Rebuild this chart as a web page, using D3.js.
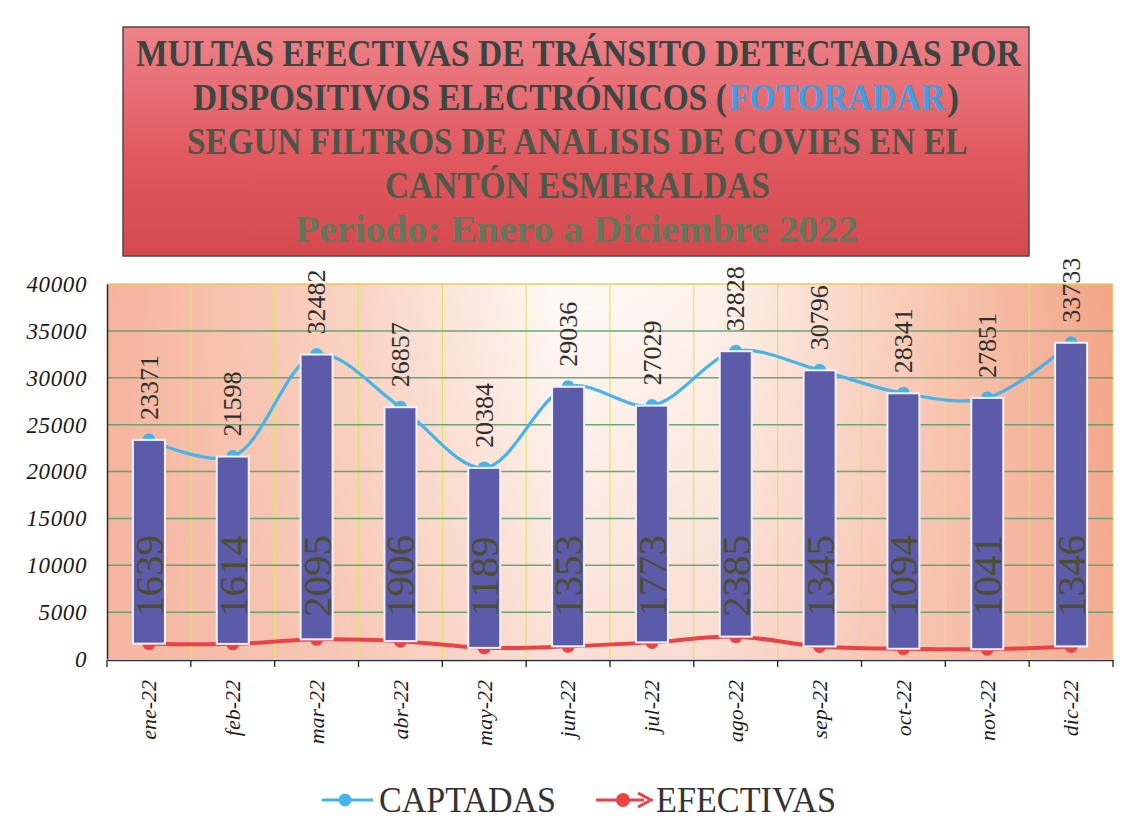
<!DOCTYPE html>
<html>
<head>
<meta charset="utf-8">
<script src="https://cdn.jsdelivr.net/npm/d3@7"></script>
<style>
  html, body { margin: 0; padding: 0; background: #ffffff; }
  svg { display: block; }
</style>
</head>
<body>
<svg id="chart" width="1127" height="837"></svg>
<script>
const months = ["ene-22","feb-22","mar-22","abr-22","may-22","jun-22","jul-22","ago-22","sep-22","oct-22","nov-22","dic-22"];
const captadas = [23371,21598,32482,26857,20384,29036,27029,32828,30796,28341,27851,33733];
const efectivas = [1639,1614,2095,1906,1189,1353,1773,2385,1345,1094,1041,1346];
const yTicks = [0,5000,10000,15000,20000,25000,30000,35000,40000];
const titleParts = [
  {t:"MULTAS EFECTIVAS DE TRÁNSITO DETECTADAS POR", line:0, x0:136, x1:1021},
  {t:"DISPOSITIVOS ELECTRÓNICOS (", line:1, x0:193, x1:727},
  {t:"FOTORADAR", line:1, x0:729, x1:945, hl:true},
  {t:")", line:1, x0:947, x1:959},
  {t:"SEGUN FILTROS DE ANALISIS DE COVIES EN EL", line:2, x0:187, x1:968},
  {t:"CANTÓN ESMERALDAS", line:3, x0:385, x1:770},
  {t:"Periodo: Enero a Diciembre 2022", line:4, x0:295, x1:858}
];
const seriesNames = ["CAPTADAS","EFECTIVAS"];

const svg = d3.select("#chart");
const plot = {left:107, right:1113, top:284, bottom:659};

const defs = svg.append("defs");
const tg = defs.append("linearGradient").attr("id","titleGrad").attr("x1",0).attr("y1",0).attr("x2",0).attr("y2",1);
tg.append("stop").attr("offset","0%").attr("stop-color","#ee8389");
tg.append("stop").attr("offset","55%").attr("stop-color","#e05a60");
tg.append("stop").attr("offset","100%").attr("stop-color","#d4494e");

const bg = defs.append("linearGradient").attr("id","bgGrad").attr("x1",0).attr("y1",0).attr("x2",1).attr("y2",0);
bg.append("stop").attr("offset","0%").attr("stop-color","#f5b39c");
bg.append("stop").attr("offset","25%").attr("stop-color","#f9d4c4");
bg.append("stop").attr("offset","45%").attr("stop-color","#fffaf6");
bg.append("stop").attr("offset","60%").attr("stop-color","#fdf3ec");
bg.append("stop").attr("offset","80%").attr("stop-color","#f8cbb6");
bg.append("stop").attr("offset","100%").attr("stop-color","#f2a487");
const bg2 = defs.append("linearGradient").attr("id","bgGrad2").attr("x1",0).attr("y1",0).attr("x2",0).attr("y2",1);
bg2.append("stop").attr("offset","0%").attr("stop-color","#f7c0ac").attr("stop-opacity",0);
bg2.append("stop").attr("offset","100%").attr("stop-color","#f5b8a4").attr("stop-opacity",0.4);

// Title box
svg.append("rect").attr("x",123).attr("y",27).attr("width",906).attr("height",229)
  .attr("fill","url(#titleGrad)").attr("stroke","#4a4a4a").attr("stroke-width",1.5);
const titleColors = ["#3a4440","#3c4642","#4a5648","#4d5a4a","#62785a"];
svg.append("g").selectAll("text").data(titleParts).join("text")
  .attr("x",0).attr("y",0)
  .attr("font-family","'Liberation Serif', 'DejaVu Serif', serif")
  .attr("font-weight","bold").attr("font-size",38)
  .attr("fill",d=>d.hl ? "#3e9fe2" : titleColors[d.line])
  .text(d=>d.t)
  .each(function(d){
    const len = this.getComputedTextLength();
    const sx = (d.x1 - d.x0) / len;
    d3.select(this).attr("transform",`translate(${d.x0},${66 + d.line*44}) scale(${sx},1)`);
  });

// Scales
const x = d3.scaleBand().domain(months).range([plot.left, plot.right]);
const y = d3.scaleLinear().domain([0,40000]).range([plot.bottom, plot.top]);
const xc = d => x(d) + x.bandwidth()/2;

// Plot background
svg.append("rect").attr("x",plot.left).attr("y",plot.top).attr("width",plot.right-plot.left).attr("height",plot.bottom-plot.top).attr("fill","url(#bgGrad)");
svg.append("rect").attr("x",plot.left).attr("y",plot.top).attr("width",plot.right-plot.left).attr("height",plot.bottom-plot.top).attr("fill","url(#bgGrad2)");

// Vertical gridlines at category boundaries
const bounds = months.map(m => x(m)).concat([plot.right]);
svg.append("g").selectAll("line").data(bounds.slice(1)).join("line")
  .attr("x1",d=>d).attr("x2",d=>d).attr("y1",plot.top).attr("y2",plot.bottom)
  .attr("stroke","#dde46e").attr("stroke-width",1.2);
// Horizontal gridlines
svg.append("g").selectAll("line").data(yTicks.filter(v=>v>0)).join("line")
  .attr("x1",plot.left).attr("x2",plot.right).attr("y1",d=>y(d)).attr("y2",d=>y(d))
  .attr("stroke", d => d===40000 ? "#e2c94e" : "#5d9f6e").attr("stroke-width",1.5).attr("opacity",0.9);

// Y axis
const yAxis = svg.append("g").attr("transform",`translate(${plot.left},0)`)
  .call(d3.axisLeft(y).tickValues(yTicks).tickSize(0).tickPadding(20).tickFormat(d3.format("d")));
yAxis.select(".domain").attr("stroke","#2a2a2a").attr("stroke-width",1.5);
yAxis.selectAll("text").attr("font-family","'Liberation Serif', serif").attr("font-style","italic")
  .attr("font-size",23).attr("letter-spacing","0.6px").attr("fill","#1a1a1a");

// X axis
const xAxis = svg.append("g").attr("transform",`translate(0,${plot.bottom+1})`)
  .call(d3.axisBottom(x).tickSize(0).tickSizeOuter(0));
xAxis.select(".domain").attr("stroke","#22304a").attr("stroke-width",1.6);
xAxis.selectAll("text").attr("font-family","'Liberation Serif', serif").attr("font-style","italic")
  .attr("font-size",22).attr("fill","#1a1a1a")
  .attr("transform","rotate(-90)").attr("x",-20).attr("y",0).attr("dy","0.33em")
  .style("text-anchor","end");
svg.append("g").selectAll("line").data(bounds).join("line")
  .attr("x1",d=>d).attr("x2",d=>d).attr("y1",plot.bottom+1).attr("y2",plot.bottom+8)
  .attr("stroke","#222").attr("stroke-width",1.3);

// Lines
const lineGen = d3.line().x((d,i)=>xc(months[i])).y(d=>y(d)).curve(d3.curveCatmullRom.alpha(0.5));
svg.append("path").datum(captadas).attr("d",lineGen).attr("fill","none").attr("stroke","#46b4ea").attr("stroke-width",3.2);
svg.append("path").datum(efectivas).attr("d",lineGen).attr("fill","none").attr("stroke","#ea4346").attr("stroke-width",4);
svg.append("g").selectAll("circle").data(captadas).join("circle")
  .attr("cx",(d,i)=>xc(months[i])).attr("cy",d=>y(d)).attr("r",6.5).attr("fill","#46b4ea");
svg.append("g").selectAll("circle").data(efectivas).join("circle")
  .attr("cx",(d,i)=>xc(months[i])).attr("cy",d=>y(d)).attr("r",6.5).attr("fill","#ea4346");

// Up bars (between efectivas and captadas)
const bw = 32;
svg.append("g").selectAll("rect").data(months).join("rect")
  .attr("x",d=>xc(d)-bw/2).attr("width",bw)
  .attr("y",(d,i)=>y(captadas[i])).attr("height",(d,i)=>y(efectivas[i])-y(captadas[i]))
  .attr("fill","#5b5ba9").attr("stroke","#f4f2fb").attr("stroke-width",2);

// Labels captadas
svg.append("g").selectAll("text").data(captadas).join("text")
  .attr("transform",(d,i)=>`translate(${xc(months[i])},${y(d)-20}) rotate(-90)`)
  .attr("dy","0.33em").attr("text-anchor","start")
  .attr("font-family","'Liberation Serif', serif").attr("font-size",26).attr("fill","#2e2e2e")
  .text(d=>d);
// Labels efectivas
svg.append("g").selectAll("text").data(efectivas).join("text")
  .attr("transform",(d,i)=>`translate(${xc(months[i])},${y(0)-42}) rotate(-90)`)
  .attr("dy","0.34em").attr("text-anchor","start")
  .attr("font-family","'Liberation Serif', serif").attr("font-size",41).attr("fill","#4d4d33")
  .text(d=>d);

// Legend
const lg = svg.append("g");
lg.append("line").attr("x1",322).attr("x2",373).attr("y1",800).attr("y2",800).attr("stroke","#46b4ea").attr("stroke-width",3);
lg.append("circle").attr("cx",345).attr("cy",800).attr("r",6.5).attr("fill","#46b4ea");
lg.append("text").attr("x",379).attr("y",812).attr("font-family","'Liberation Serif', serif").attr("font-size",36)
  .attr("textLength",177).attr("lengthAdjust","spacingAndGlyphs").attr("fill","#333").text(seriesNames[0]);
lg.append("line").attr("x1",596).attr("x2",644).attr("y1",800).attr("y2",800).attr("stroke","#ea4346").attr("stroke-width",3);
lg.append("circle").attr("cx",623).attr("cy",800).attr("r",7).attr("fill","#ea4346");
lg.append("path").attr("d","M638,793 L651,800 L638,807").attr("fill","none").attr("stroke","#ea4346").attr("stroke-width",3);
lg.append("text").attr("x",656).attr("y",812).attr("font-family","'Liberation Serif', serif").attr("font-size",36)
  .attr("textLength",180).attr("lengthAdjust","spacingAndGlyphs").attr("fill","#333").text(seriesNames[1]);
</script>
</body>
</html>
